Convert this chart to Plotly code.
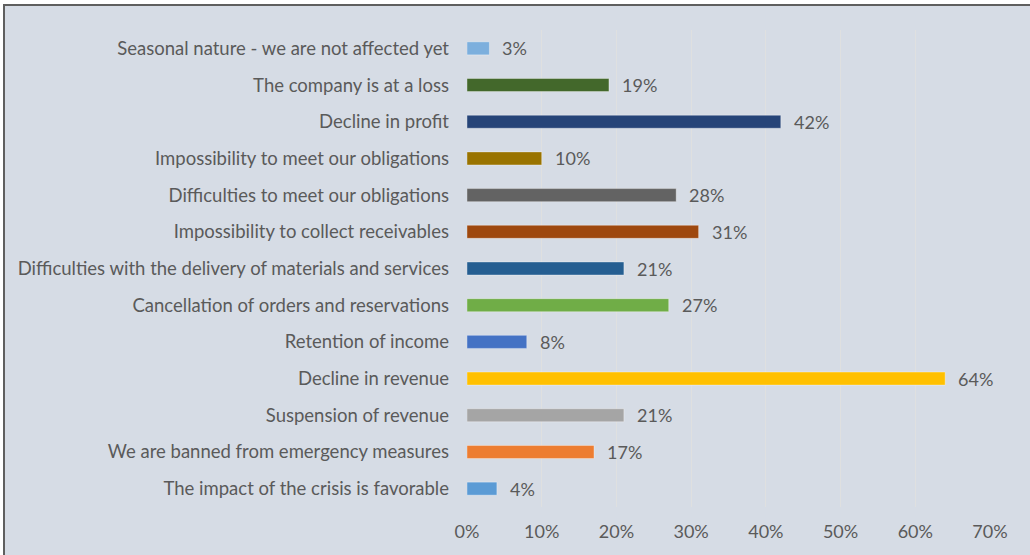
import plotly.graph_objects as go

# Categories listed bottom-to-top as they appear on the vertical axis
categories = [
    "The impact of the crisis is favorable",
    "We are banned from emergency measures",
    "Suspension of revenue",
    "Decline in revenue",
    "Retention of income",
    "Cancellation of orders and reservations",
    "Difficulties with the delivery of materials and services",
    "Impossibility to collect receivables",
    "Difficulties to meet our obligations",
    "Impossibility to meet our obligations",
    "Decline in profit",
    "The company is at a loss",
    "Seasonal nature - we are not affected yet",
]
shares = [0.04, 0.17, 0.21, 0.64, 0.08, 0.27, 0.21, 0.31, 0.28, 0.10, 0.42, 0.19, 0.03]
bar_colors = [
    "#5B9BD5", "#ED7D31", "#A5A5A5", "#FFC000", "#4472C4", "#70AD47",
    "#255E91", "#9E480E", "#636363", "#997300", "#264478", "#43682B", "#7CAFDD",
]
tick_vals = [0, 0.1, 0.2, 0.3, 0.4, 0.5, 0.6, 0.7]
tick_text = ["0%", "10%", "20%", "30%", "40%", "50%", "60%", "70%"]

W, H = 1030, 555
ML, MR, MT, MB = 467, 40, 30, 48
PW, PH = W - ML - MR, H - MT - MB

FONT = "Lato, Calibri, sans-serif"
TEXT = "#5A5A5A"
BG = "#D6DCE5"


def px_x(p):
    return (p - ML) / PW


def px_y(p):
    return (H - MB - p) / PH


fig = go.Figure(
    go.Bar(
        x=shares,
        y=categories,
        orientation="h",
        marker=dict(color=bar_colors, line=dict(color="rgba(255,255,255,0.35)", width=1)),
        hoverinfo="skip",
    )
)

# Value labels to the right of each bar
for cat, v in zip(categories, shares):
    fig.add_annotation(
        x=v, y=cat, text=f"{v * 100:.0f}%", showarrow=False,
        xanchor="left", xshift=11, font=dict(family=FONT, size=18, color=TEXT),
    )

# Chart area frame
fig.add_shape(
    type="rect", xref="paper", yref="paper", layer="below",
    x0=px_x(4), x1=px_x(W + 10), y0=px_y(H + 10), y1=px_y(5),
    fillcolor=BG, line=dict(color="#5F5F5F", width=2),
)

fig.update_layout(
    width=W, height=H,
    margin=dict(l=ML, r=MR, t=MT, b=MB, pad=0),
    paper_bgcolor="white",
    plot_bgcolor="rgba(0,0,0,0)",
    bargap=0.645,
    showlegend=False,
    font=dict(family=FONT, size=18, color=TEXT),
    xaxis=dict(
        range=[0, 0.7], tickvals=tick_vals, ticktext=tick_text,
        showgrid=True, gridcolor="#DFE0E0", gridwidth=1,
        zeroline=False, showline=False, ticks="",
        ticklabelstandoff=12,
        tickfont=dict(family=FONT, size=18, color=TEXT),
    ),
    yaxis=dict(
        categoryorder="array", categoryarray=categories,
        showgrid=False, zeroline=False, showline=False, ticks="",
        ticklabelstandoff=17,
        tickfont=dict(family=FONT, size=18.5, color=TEXT),
    ),
)

fig.write_html("out.html")
